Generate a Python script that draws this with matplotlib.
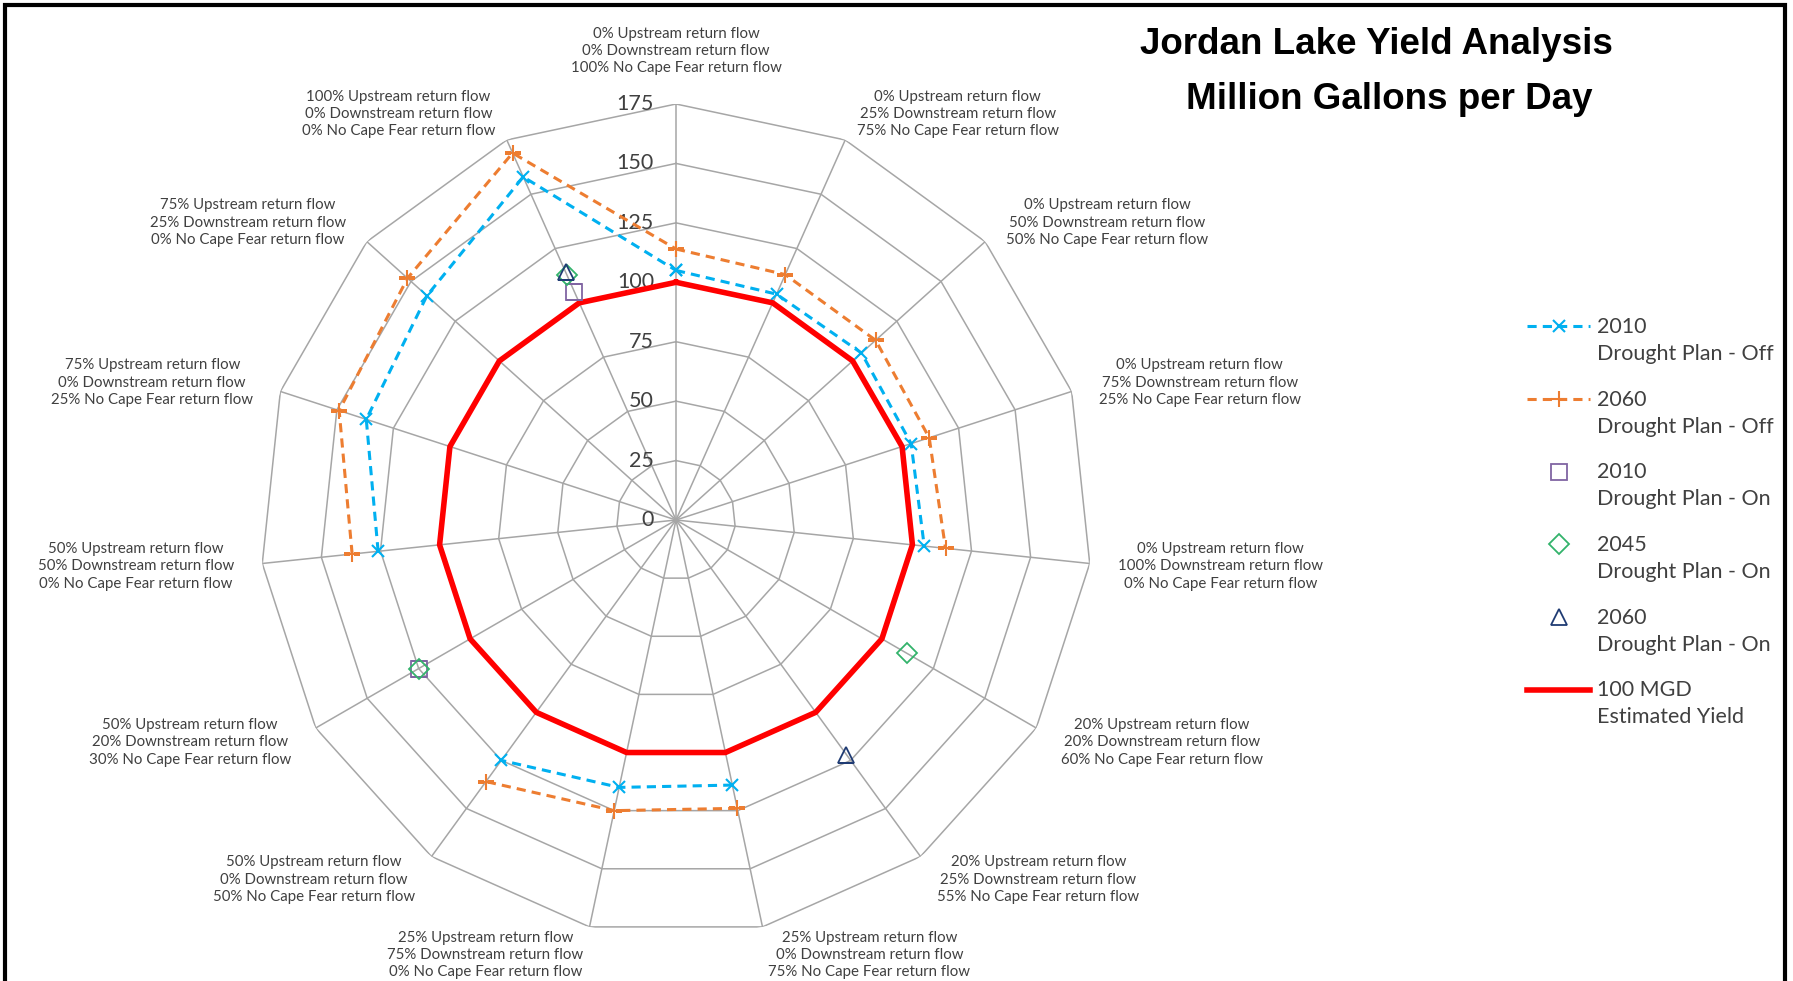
import numpy as np
import matplotlib
matplotlib.use("Agg")
import matplotlib.pyplot as plt
from matplotlib.lines import Line2D
from matplotlib.legend_handler import HandlerLine2D
from matplotlib.transforms import ScaledTranslation
from matplotlib.patches import Rectangle

plt.rcParams['font.family'] = ['Lato', 'DejaVu Sans']

# return flow split for each spoke (clockwise from the top)
upstream = [0, 0, 0, 0, 0, 20, 20, 25, 25, 50, 50, 50, 75, 75, 100]
downstream = [0, 25, 50, 75, 100, 20, 25, 0, 75, 0, 20, 50, 0, 25, 0]
no_cape = [100, 75, 50, 25, 0, 60, 55, 75, 0, 50, 30, 0, 25, 0, 0]

nan = np.nan
off_2010 = [105, 104, 105, 104, 105, nan, nan, 114, 115, 125, nan, 126, 137, 141, 158]
off_2060 = [114, 113, 113, 112, 114, nan, nan, 124, 125, 136, nan, 137, 149, 152, 169]
on_2010 = [nan, nan, nan, nan, nan, nan, nan, nan, nan, nan, 125, nan, nan, nan, 105]
on_2045 = [nan, nan, nan, nan, nan, 112, nan, nan, nan, nan, 125, nan, nan, nan, 113]
on_2060 = [nan, nan, nan, nan, nan, nan, 122, nan, nan, nan, nan, nan, nan, nan, 114]
yield_100 = [100, 100, 100, 100, 100, 100, 100, 100, 100, 100, 100, 100, 100, 100, 100]

r_ticks = [0, 25, 50, 75, 100, 125, 150, 175]

labels = ["%d%% Upstream return flow\n%d%% Downstream return flow\n%d%% No Cape Fear return flow" % (u, d, c)
          for u, d, c in zip(upstream, downstream, no_cape)]

n = len(labels)
theta = np.linspace(0, 2 * np.pi, n, endpoint=False)


def closed(v):
    return np.append(v, v[0])


W, H = 1793, 981
fig = plt.figure(figsize=(W / 100, H / 100), dpi=100)

cx, cy, R = 676, 520, 416
ax = fig.add_axes([(cx - R) / W, (H - cy - R) / H, 2 * R / W, 2 * R / H], projection='polar')
ax.set_theta_zero_location('N')
ax.set_theta_direction(-1)
ax.set_ylim(0, 175)
ax.set_xticks([])
ax.set_yticks([])
ax.grid(False)
ax.spines['polar'].set_visible(False)
ax.patch.set_visible(False)

grid_c = '#a6a6a6'
for t in theta:
    ax.plot([t, t], [0, 175], color=grid_c, lw=1.1, zorder=1)
for r in r_ticks[1:]:
    ring, = ax.plot(closed(theta), [r] * (n + 1), color=grid_c, lw=1.1, zorder=1)
    ring.get_path()._interpolation_steps = 1

off = ScaledTranslation(-0.22, 0, fig.dpi_scale_trans)
for v in r_ticks:
    ax.text(0, v, str(v), ha='right', va='center', fontsize=15.5, color='#404040',
            transform=ax.transData + off)

for i, lab in enumerate(labels):
    x, y = np.sin(theta[i]), np.cos(theta[i])
    ha = 'left' if x > 0.1 else ('right' if x < -0.1 else 'center')
    va = 'bottom' if y > 0.95 else 'center'
    ax.text(theta[i], 187, lab, ha=ha, va=va, multialignment='center',
            fontsize=10.8, color='#404040', linespacing=1.3)

dash = (0, (3, 2))
l1, = ax.plot(closed(theta), closed(off_2010), color='#00b0f0', ls=dash, lw=2.2,
              marker='x', ms=9, mew=1.5, label='2010\nDrought Plan - Off', zorder=3)
l2, = ax.plot(closed(theta), closed(off_2060), color='#ed7d31', ls=dash, lw=2.2,
              marker='+', ms=11, mew=1.5, label='2060\nDrought Plan - Off', zorder=3)
l3, = ax.plot(theta, on_2010, ls='none', marker='s', ms=12, mfc='none', mec='#8064a2',
              mew=1.3, label='2010\nDrought Plan - On', zorder=4)
l4, = ax.plot(theta, on_2045, ls='none', marker='D', ms=10, mfc='none', mec='#33b36b',
              mew=1.3, label='2045\nDrought Plan - On', zorder=4)
l5, = ax.plot(theta, on_2060, ls='none', marker='^', ms=12, mfc='none', mec='#1f3b73',
              mew=1.3, label='2060\nDrought Plan - On', zorder=4)
l6, = ax.plot(closed(theta), closed(yield_100), color='#ff0000', lw=4,
              label='100 MGD\nEstimated Yield', zorder=3)
for ln in (l1, l2, l6):
    ln.get_path()._interpolation_steps = 1


class FirstLineHandler(HandlerLine2D):
    # put the legend key next to the first line of a two-line label
    def create_artists(self, legend, orig_handle, xdescent, ydescent, width, height, fontsize, trans):
        return super().create_artists(legend, orig_handle, xdescent, ydescent - 1.35 * fontsize,
                                      width, height, fontsize, trans)


leg = fig.legend(handles=[l1, l2, l3, l4, l5, l6], loc='upper left',
                 bbox_to_anchor=(1527 / W, 1 - 317 / H), bbox_transform=fig.transFigure,
                 frameon=False, fontsize=15.5, handlelength=2.93, handletextpad=0.33,
                 borderpad=0, borderaxespad=0, labelspacing=1.19, numpoints=1,
                 handler_map={Line2D: FirstLineHandler()})
for t in leg.get_texts():
    t.set_color('#404040')
    t.set_linespacing(1.44)

fig.text(1376 / W, 1 - 44.5 / H, 'Jordan Lake Yield Analysis', ha='center', va='center',
         fontsize=26.5, fontweight='bold', family='Liberation Sans')
fig.text(1389 / W, 1 - 99.5 / H, 'Million Gallons per Day', ha='center', va='center',
         fontsize=26.5, fontweight='bold', family='Liberation Sans')

fig.add_artist(Rectangle((5 / W, -0.05), (1785 - 5) / W, 1.05 - 5 / H, fill=False,
                         ec='black', lw=3, transform=fig.transFigure))

fig.savefig('out.png', dpi=100)
